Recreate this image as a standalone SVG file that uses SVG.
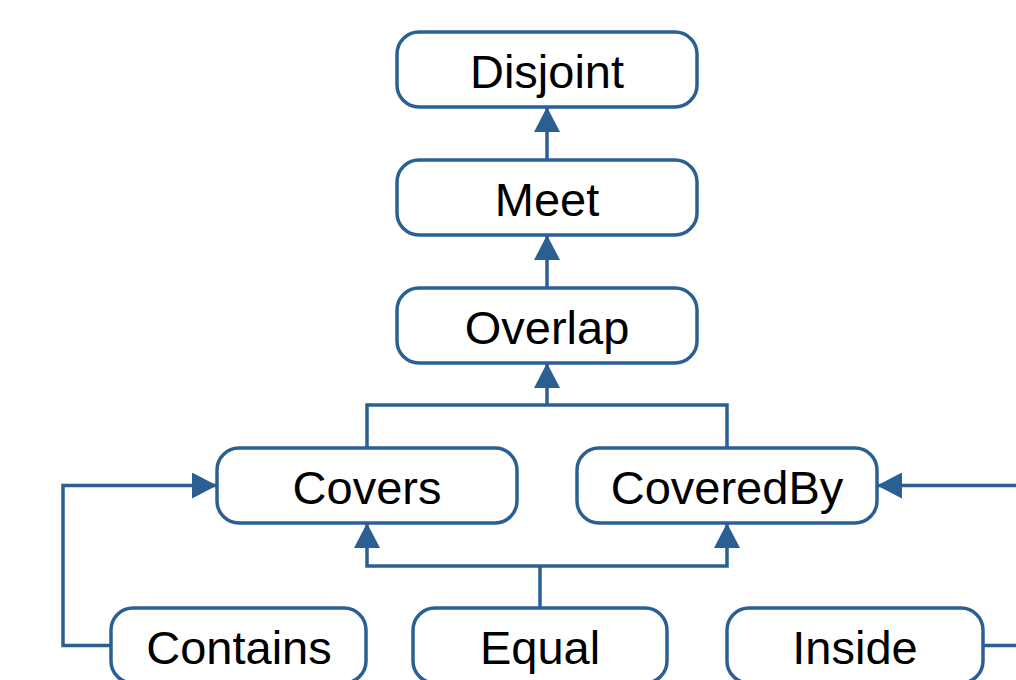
<svg xmlns="http://www.w3.org/2000/svg" width="1016" height="680" viewBox="0 0 1016 680">
  <defs>
    <marker id="arrow" markerUnits="userSpaceOnUse" markerWidth="25" markerHeight="26" refX="25" refY="13" orient="auto">
      <path d="M0,0 L25,13 L0,26 Z" fill="#2b5f94"/>
    </marker>
  </defs>
  <style>
    .box { fill: #ffffff; stroke: #2b5f94; stroke-width: 3.5; }
    .label { font-family: "Liberation Sans", Arial, sans-serif; font-size: 47px; fill: #000000; text-anchor: middle; }
    .edge { fill: none; stroke: #2b5f94; stroke-width: 3.5; marker-end: url(#arrow); }
    .plain { fill: none; stroke: #2b5f94; stroke-width: 3.5; }
  </style>
  <rect width="1016" height="680" fill="#ffffff"/>

  <g id="connectors">
    <path class="edge" d="M547,160 V107"/>
    <path class="edge" d="M547,288 V235"/>
    <path class="plain" d="M367,448 V405 H727 V448"/>
    <path class="edge" d="M547,405 V363"/>
    <path class="plain" d="M540,608 V566"/>
    <path class="edge" d="M540,566 H367 V523"/>
    <path class="edge" d="M540,566 H727 V523"/>
    <path class="edge" d="M111,645.5 H63 V485.5 H217"/>
    <path class="edge" d="M983,645.5 H1040 V485.5 H877"/>
  </g>

  <g id="disjoint">
    <rect class="box" x="397" y="32" width="300" height="75" rx="22"/>
    <text class="label" x="547" y="88">Disjoint</text>
  </g>
  <g id="meet">
    <rect class="box" x="397" y="160" width="300" height="75" rx="22"/>
    <text class="label" x="547" y="216">Meet</text>
  </g>
  <g id="overlap">
    <rect class="box" x="397" y="288" width="300" height="75" rx="22"/>
    <text class="label" x="547" y="344">Overlap</text>
  </g>
  <g id="covers">
    <rect class="box" x="217" y="448" width="300" height="75" rx="22"/>
    <text class="label" x="367" y="504">Covers</text>
  </g>
  <g id="coveredby">
    <rect class="box" x="577" y="448" width="300" height="75" rx="22"/>
    <text class="label" x="727" y="504">CoveredBy</text>
  </g>
  <g id="contains">
    <rect class="box" x="111" y="608" width="255" height="75" rx="22"/>
    <text class="label" x="239" y="664">Contains</text>
  </g>
  <g id="equal">
    <rect class="box" x="413" y="608" width="254" height="75" rx="22"/>
    <text class="label" x="540" y="664">Equal</text>
  </g>
  <g id="inside">
    <rect class="box" x="727" y="608" width="256" height="75" rx="22"/>
    <text class="label" x="855" y="664">Inside</text>
  </g>
</svg>
